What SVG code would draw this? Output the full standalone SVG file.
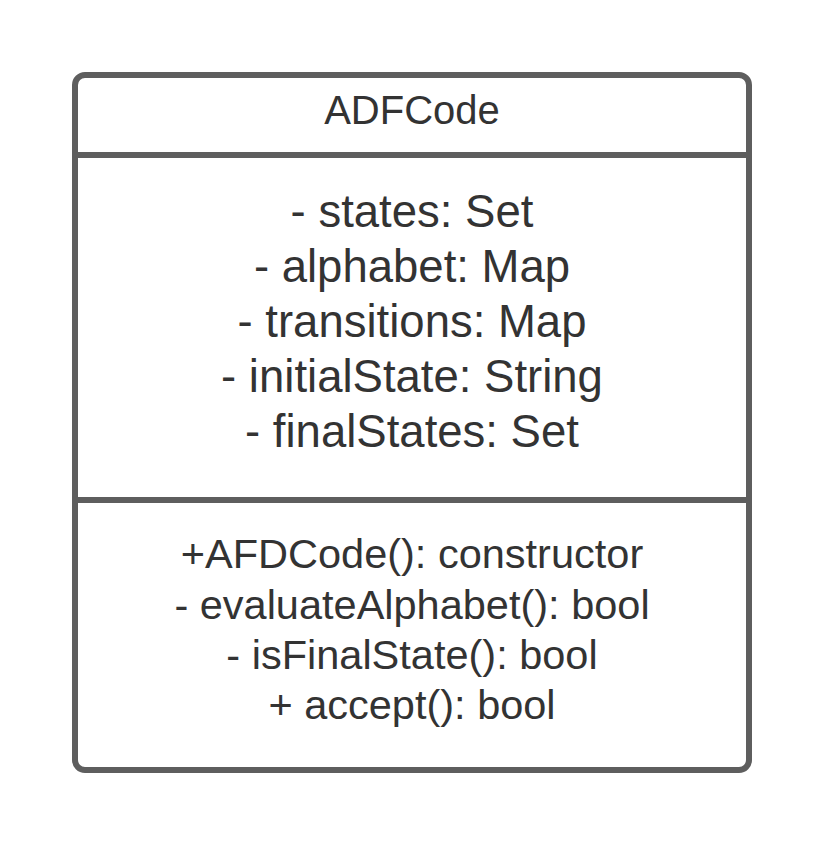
<svg xmlns="http://www.w3.org/2000/svg" width="825" height="846" viewBox="0 0 825 846">
<style>
.box{fill:#ffffff;stroke:#5e5e5e;stroke-width:6}
.sep{stroke:#5e5e5e;stroke-width:6}
text{font-family:"Liberation Sans",Arial,sans-serif;fill:#333333;text-anchor:middle}
.h{font-size:40px}
.a{font-size:45.5px}
.m{font-size:41.5px}
</style>
<rect width="825" height="846" fill="#ffffff"/>
<g id="class-ADFCode">
<rect class="box" x="75" y="75" width="674" height="695" rx="10" ry="10"/>
<line class="sep" x1="75" y1="155" x2="749" y2="155"/>
<line class="sep" x1="75" y1="500" x2="749" y2="500"/>
<text class="h" x="412" y="124">ADFCode</text>
<text class="a" x="412" y="227">- states: Set</text>
<text class="a" x="412" y="282">- alphabet: Map</text>
<text class="a" x="412" y="337">- transitions: Map</text>
<text class="a" x="412" y="392">- initialState: String</text>
<text class="a" x="412" y="447">- finalStates: Set</text>
<text class="m" x="412" y="568">+AFDCode(): constructor</text>
<text class="m" x="412" y="619">- evaluateAlphabet(): bool</text>
<text class="m" x="412" y="669">- isFinalState(): bool</text>
<text class="m" x="412" y="719">+ accept(): bool</text>
</g>
<g id="connectors"/>
</svg>
